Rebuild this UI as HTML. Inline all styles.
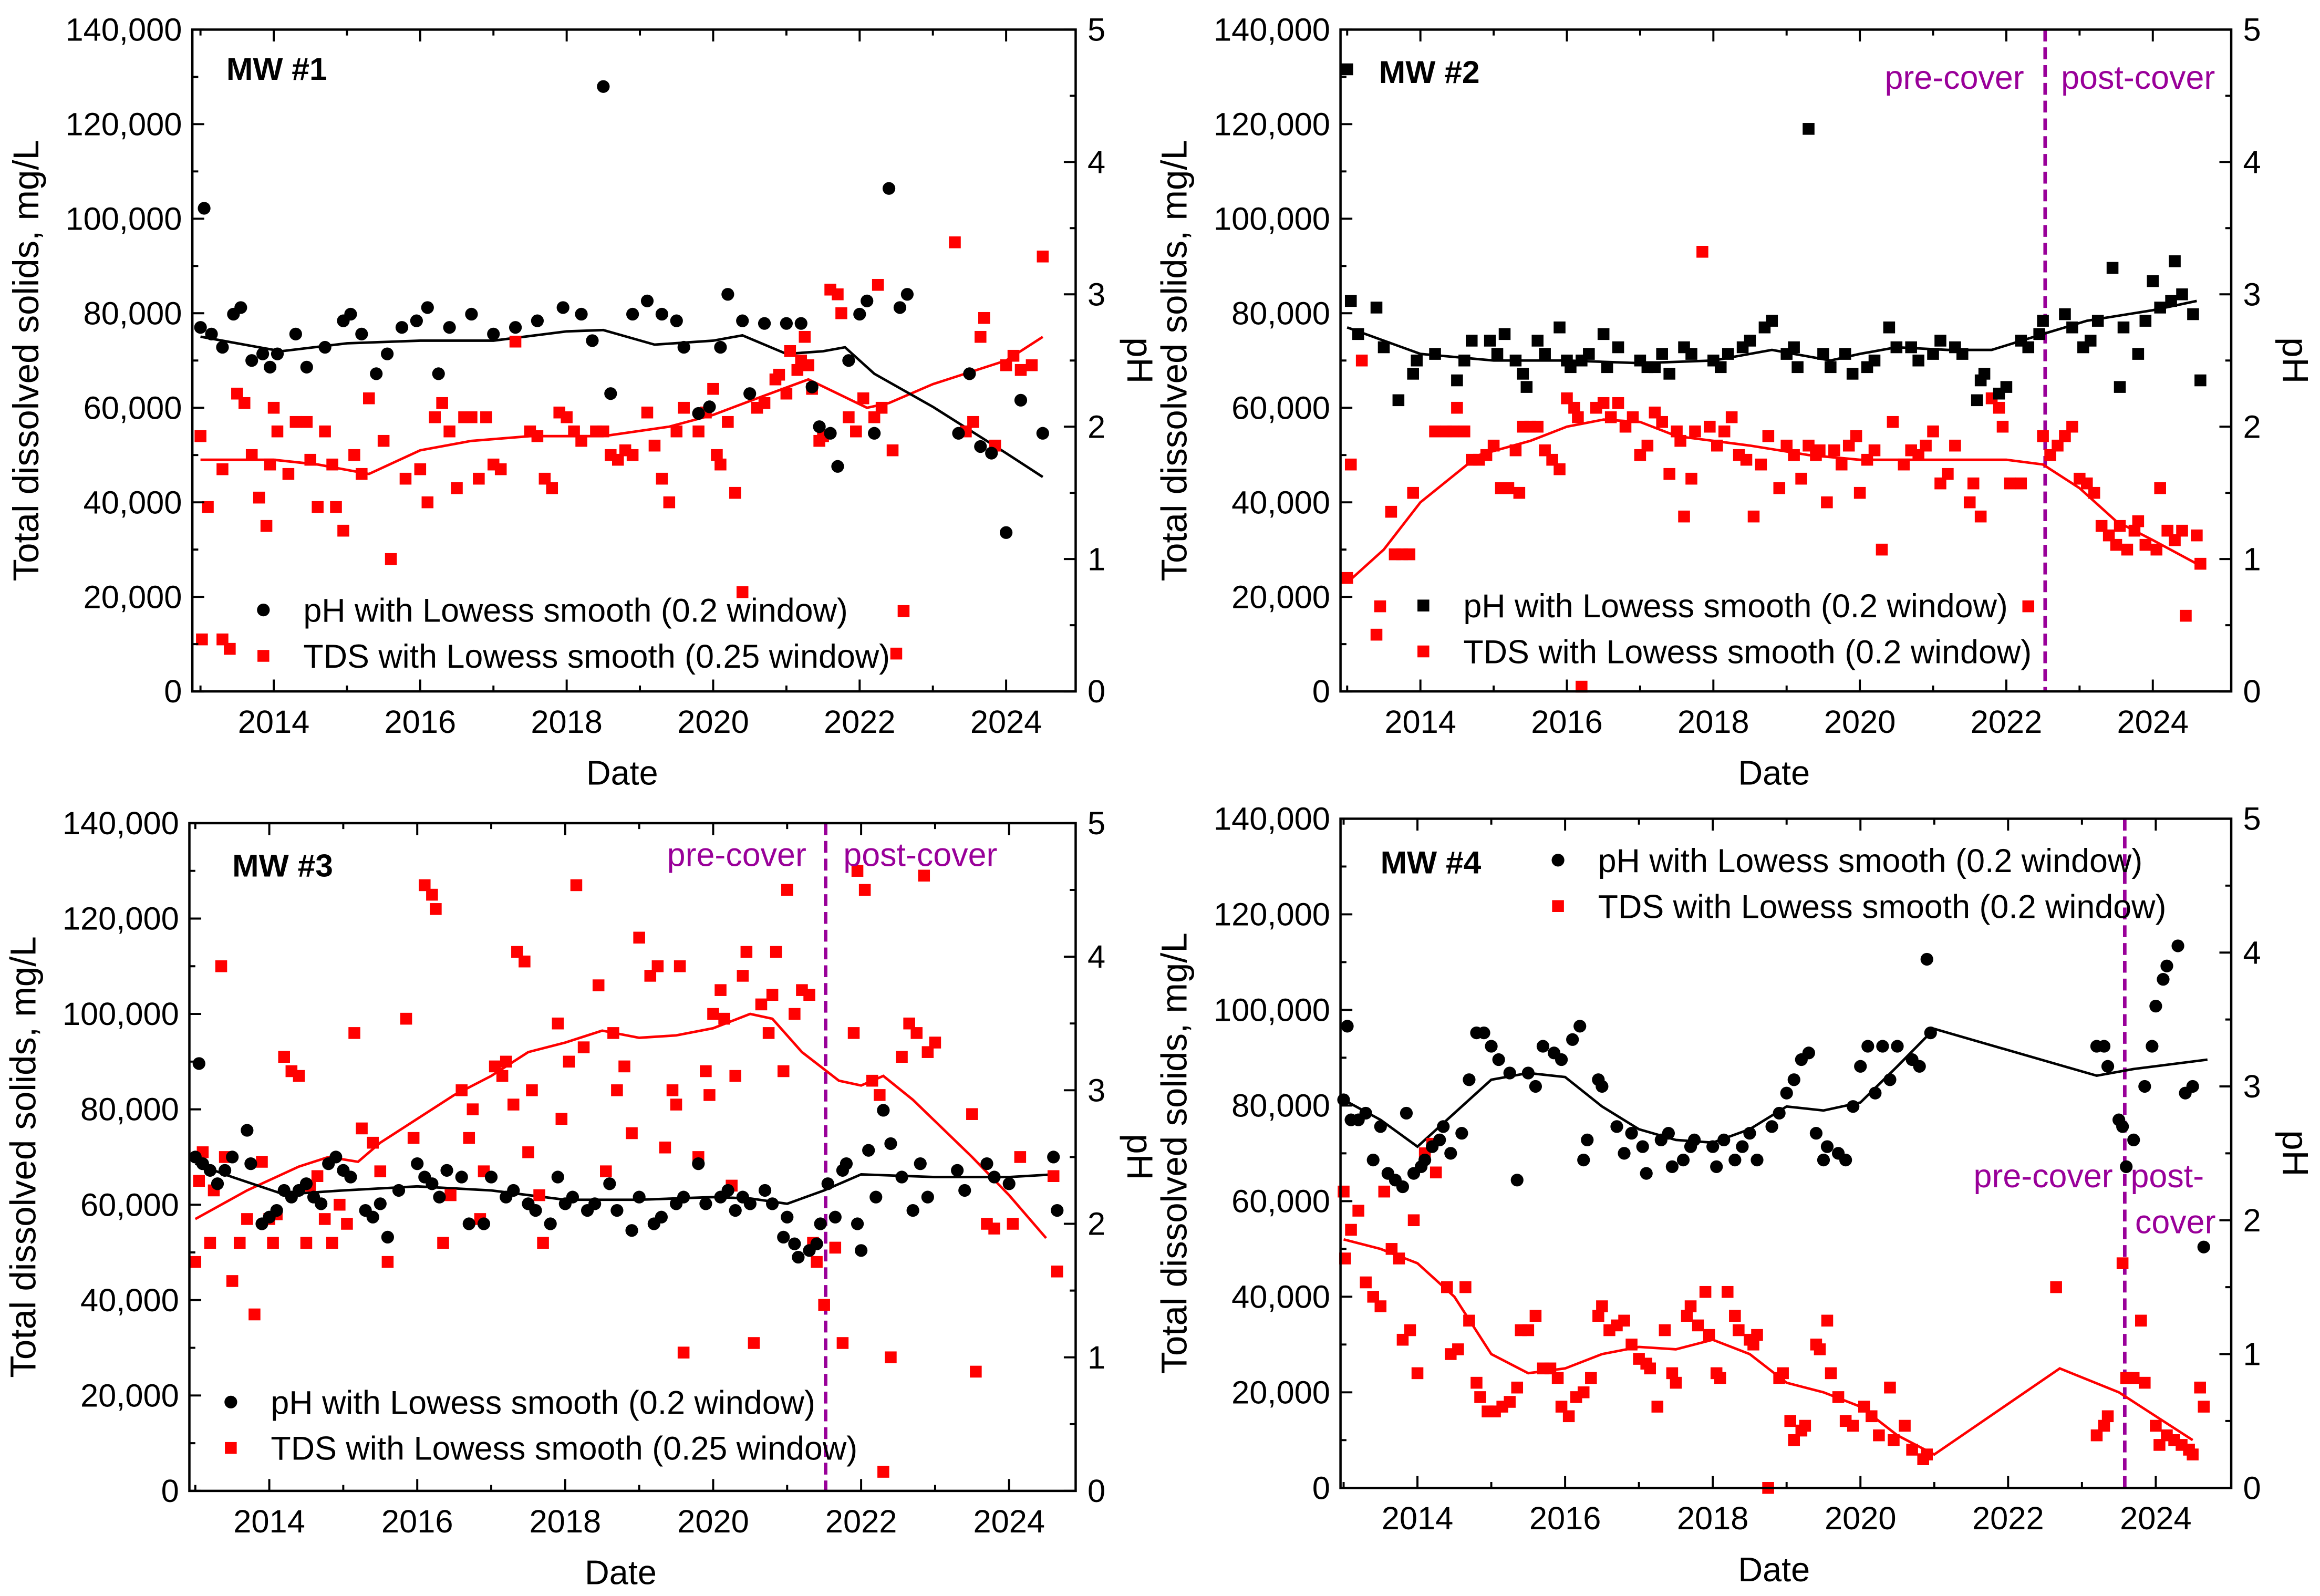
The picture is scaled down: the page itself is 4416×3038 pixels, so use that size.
<!DOCTYPE html>
<html><head><meta charset="utf-8"><style>
html,body{margin:0;padding:0;background:#fff;}
svg{display:block;font-family:"Liberation Sans",Arial,sans-serif;}
</style></head><body>
<svg id="chart" width="4416" height="3038" viewBox="0 0 1568 1078" preserveAspectRatio="none" xmlns="http://www.w3.org/2000/svg"></svg>
<script>
// ---------- tick labels ----------
const yearTickLabels = ['2014','2016','2018','2020','2022','2024'];
const tdsTickLabels = ['0','20,000','40,000','60,000','80,000','100,000','120,000','140,000'];
const phTickLabels = ['0','1','2','3','4','5'];

// ---------- MW #1 ----------
const mw1Ph = [[2013.0,2.75],[2013.05,3.65],[2013.15,2.7],[2013.3,2.6],[2013.45,2.85],[2013.55,2.9],[2013.7,2.5],[2013.85,2.55],[2013.95,2.45],[2014.05,2.55],[2014.3,2.7],[2014.45,2.45],[2014.7,2.6],[2014.95,2.8],[2015.05,2.85],[2015.2,2.7],[2015.4,2.4],[2015.55,2.55],[2015.75,2.75],[2015.95,2.8],[2016.1,2.9],[2016.25,2.4],[2016.4,2.75],[2016.7,2.85],[2017.0,2.7],[2017.3,2.75],[2017.6,2.8],[2017.95,2.9],[2018.2,2.85],[2018.35,2.65],[2018.5,4.57],[2018.6,2.25],[2018.9,2.85],[2019.1,2.95],[2019.3,2.85],[2019.5,2.8],[2019.6,2.6],[2019.8,2.1],[2019.95,2.15],[2020.1,2.6],[2020.2,3.0],[2020.4,2.8],[2020.5,2.25],[2020.7,2.78],[2021.0,2.78],[2021.2,2.78],[2021.35,2.3],[2021.45,2.0],[2021.6,1.95],[2021.7,1.7],[2021.85,2.5],[2022.0,2.85],[2022.1,2.95],[2022.2,1.95],[2022.4,3.8],[2022.55,2.9],[2022.65,3.0],[2023.35,1.95],[2023.5,2.4],[2023.65,1.85],[2023.8,1.8],[2024.0,1.2],[2024.2,2.2],[2024.5,1.95]];
const mw1PhSmooth = [[2013.0,2.68],[2014.1,2.57],[2015.0,2.63],[2016.0,2.65],[2017.0,2.65],[2018.0,2.72],[2018.5,2.73],[2019.2,2.62],[2020.0,2.65],[2020.4,2.69],[2021.0,2.55],[2021.5,2.57],[2021.8,2.6],[2022.2,2.4],[2023.0,2.15],[2024.0,1.8],[2024.5,1.62]];
const mw1Tds = [[2013.0,54],[2013.02,11],[2013.1,39],[2013.3,47],[2013.3,11],[2013.4,9],[2013.5,63],[2013.6,61],[2013.7,50],[2013.8,41],[2013.9,35],[2013.95,48],[2014.0,60],[2014.05,55],[2014.2,46],[2014.3,57],[2014.45,57],[2014.5,49],[2014.6,39],[2014.7,55],[2014.8,48],[2014.85,39],[2014.95,34],[2015.1,50],[2015.2,46],[2015.3,62],[2015.5,53],[2015.6,28],[2015.8,45],[2016.0,47],[2016.1,40],[2016.2,58],[2016.3,61],[2016.4,55],[2016.5,43],[2016.6,58],[2016.7,58],[2016.8,45],[2016.9,58],[2017.0,48],[2017.1,47],[2017.3,74],[2017.5,55],[2017.6,54],[2017.7,45],[2017.8,43],[2017.9,59],[2018.0,58],[2018.1,55],[2018.2,53],[2018.4,55],[2018.5,55],[2018.6,50],[2018.7,49],[2018.8,51],[2018.9,50],[2019.1,59],[2019.2,52],[2019.3,45],[2019.4,40],[2019.5,55],[2019.6,60],[2019.8,55],[2019.9,59],[2020.0,64],[2020.05,50],[2020.1,48],[2020.2,57],[2020.3,42],[2020.4,21],[2020.6,60],[2020.7,61],[2020.85,66],[2020.9,67],[2021.0,63],[2021.05,72],[2021.15,68],[2021.2,70],[2021.25,75],[2021.3,69],[2021.35,64],[2021.45,53],[2021.5,54],[2021.6,85],[2021.7,84],[2021.75,80],[2021.85,58],[2021.95,55],[2022.05,62],[2022.2,58],[2022.3,60],[2022.25,86],[2022.45,51],[2022.6,17],[2022.5,8],[2023.3,95],[2023.45,55],[2023.55,57],[2023.65,75],[2023.7,79],[2023.85,52],[2024.0,69],[2024.1,71],[2024.2,68],[2024.35,69],[2024.5,92]];
const mw1TdsSmooth = [[2013.0,49],[2014.0,49],[2014.6,48],[2015.3,46],[2016.0,51],[2016.7,53],[2017.5,54],[2018.5,54],[2019.4,56],[2020.0,58.5],[2020.6,62],[2021.3,66],[2021.7,63],[2022.1,60],[2022.4,61],[2023.0,65],[2024.0,70],[2024.5,75]];

// ---------- MW #2 ----------
const mw2Ph = [[2013.0,4.7],[2013.05,2.95],[2013.15,2.7],[2013.4,2.9],[2013.5,2.6],[2013.7,2.2],[2013.9,2.4],[2013.95,2.5],[2014.2,2.55],[2014.5,2.35],[2014.6,2.5],[2014.7,2.65],[2014.95,2.65],[2015.05,2.55],[2015.15,2.7],[2015.3,2.5],[2015.4,2.4],[2015.45,2.3],[2015.6,2.65],[2015.7,2.55],[2015.9,2.75],[2016.0,2.5],[2016.05,2.45],[2016.2,2.5],[2016.3,2.55],[2016.5,2.7],[2016.55,2.45],[2016.7,2.6],[2017.0,2.5],[2017.1,2.45],[2017.2,2.45],[2017.3,2.55],[2017.4,2.4],[2017.6,2.6],[2017.7,2.55],[2018.0,2.5],[2018.1,2.45],[2018.2,2.55],[2018.4,2.6],[2018.5,2.65],[2018.7,2.75],[2018.8,2.8],[2019.0,2.55],[2019.1,2.6],[2019.15,2.45],[2019.3,4.25],[2019.5,2.55],[2019.6,2.45],[2019.8,2.55],[2019.9,2.4],[2020.1,2.45],[2020.2,2.5],[2020.4,2.75],[2020.5,2.6],[2020.7,2.6],[2020.8,2.5],[2021.0,2.55],[2021.1,2.65],[2021.3,2.6],[2021.4,2.55],[2021.6,2.2],[2021.65,2.35],[2021.7,2.4],[2021.9,2.25],[2022.0,2.3],[2022.2,2.65],[2022.3,2.6],[2022.5,2.8],[2022.45,2.7],[2022.8,2.85],[2022.9,2.75],[2023.05,2.6],[2023.15,2.65],[2023.25,2.8],[2023.45,3.2],[2023.55,2.3],[2023.6,2.75],[2023.8,2.55],[2023.9,2.8],[2024.0,3.1],[2024.1,2.9],[2024.25,2.95],[2024.3,3.25],[2024.4,3.0],[2024.55,2.85],[2024.65,2.35]];
const mw2PhSmooth = [[2013.0,2.75],[2014.0,2.55],[2015.0,2.5],[2016.0,2.5],[2017.0,2.48],[2018.0,2.5],[2018.8,2.58],[2019.6,2.5],[2020.0,2.55],[2020.5,2.6],[2021.2,2.58],[2021.8,2.58],[2022.5,2.7],[2023.1,2.8],[2024.0,2.88],[2024.6,2.95]];
const mw2Tds = [[2013.0,24],[2013.05,48],[2013.2,70],[2013.4,12],[2013.45,18],[2013.6,38],[2013.65,29],[2013.75,29],[2013.85,29],[2013.9,42],[2014.2,55],[2014.35,55],[2014.45,55],[2014.5,60],[2014.6,55],[2014.7,49],[2014.8,49],[2014.9,50],[2015.0,52],[2015.1,43],[2015.2,43],[2015.3,51],[2015.35,42],[2015.4,56],[2015.5,56],[2015.6,56],[2015.7,51],[2015.8,49],[2015.9,47],[2016.0,62],[2016.1,60],[2016.15,58],[2016.2,1],[2016.4,60],[2016.5,61],[2016.6,58],[2016.7,61],[2016.8,56],[2016.9,58],[2017.0,50],[2017.1,52],[2017.2,59],[2017.3,57],[2017.4,46],[2017.5,55],[2017.55,53],[2017.6,37],[2017.7,45],[2017.75,55],[2017.85,93],[2017.95,56],[2018.05,52],[2018.15,55],[2018.25,58],[2018.35,50],[2018.45,49],[2018.55,37],[2018.65,48],[2018.75,54],[2018.9,43],[2019.0,52],[2019.1,50],[2019.2,45],[2019.3,52],[2019.4,50],[2019.45,51],[2019.55,40],[2019.65,51],[2019.75,48],[2019.85,52],[2019.95,54],[2020.0,42],[2020.1,49],[2020.2,51],[2020.3,30],[2020.45,57],[2020.6,48],[2020.7,51],[2020.8,50],[2020.9,52],[2021.0,55],[2021.1,44],[2021.2,46],[2021.3,52],[2021.5,40],[2021.55,44],[2021.65,37],[2021.8,62],[2021.9,60],[2021.95,56],[2022.05,44],[2022.2,44],[2022.3,18],[2022.5,54],[2022.6,50],[2022.7,52],[2022.8,54],[2022.9,56],[2023.0,45],[2023.1,44],[2023.2,42],[2023.3,35],[2023.4,33],[2023.5,31],[2023.55,35],[2023.65,30],[2023.75,34],[2023.8,36],[2023.9,31],[2024.05,30],[2024.1,43],[2024.2,34],[2024.3,32],[2024.4,34],[2024.45,16],[2024.6,33],[2024.65,27]];
const mw2TdsSmooth = [[2013.0,23],[2013.5,30],[2014.0,40],[2014.8,50],[2015.5,53],[2016.0,56],[2016.5,57.5],[2017.0,57],[2017.5,54],[2018.5,52],[2019.3,50],[2020.0,49],[2021.0,49],[2022.0,49],[2022.5,48],[2023.0,43],[2023.5,36],[2024.0,32],[2024.6,27]];
const mw2Cover = [2022.53];

// ---------- MW #3 ----------
const mw3Ph = [[2013.0,2.5],[2013.05,3.2],[2013.1,2.45],[2013.2,2.4],[2013.3,2.3],[2013.4,2.4],[2013.5,2.5],[2013.7,2.7],[2013.75,2.45],[2013.9,2.0],[2014.0,2.05],[2014.1,2.1],[2014.2,2.25],[2014.3,2.2],[2014.4,2.25],[2014.5,2.3],[2014.6,2.2],[2014.7,2.15],[2014.8,2.45],[2014.9,2.5],[2015.0,2.4],[2015.1,2.35],[2015.3,2.1],[2015.4,2.05],[2015.5,2.15],[2015.6,1.9],[2015.75,2.25],[2016.0,2.45],[2016.1,2.35],[2016.2,2.3],[2016.3,2.2],[2016.4,2.4],[2016.6,2.35],[2016.7,2.0],[2016.9,2.0],[2017.0,2.35],[2017.2,2.2],[2017.3,2.25],[2017.5,2.15],[2017.6,2.1],[2017.8,2.0],[2017.9,2.35],[2018.0,2.15],[2018.1,2.2],[2018.3,2.1],[2018.4,2.15],[2018.6,2.3],[2018.7,2.1],[2018.9,1.95],[2019.0,2.2],[2019.2,2.0],[2019.3,2.05],[2019.5,2.15],[2019.6,2.2],[2019.8,2.45],[2019.9,2.15],[2020.1,2.2],[2020.2,2.25],[2020.3,2.1],[2020.4,2.2],[2020.5,2.15],[2020.7,2.25],[2020.8,2.15],[2020.95,1.9],[2021.0,2.05],[2021.1,1.85],[2021.15,1.75],[2021.3,1.8],[2021.4,1.85],[2021.45,2.0],[2021.55,2.3],[2021.65,2.05],[2021.75,2.4],[2021.8,2.45],[2021.95,2.0],[2022.0,1.8],[2022.1,2.55],[2022.2,2.2],[2022.3,2.85],[2022.4,2.6],[2022.55,2.35],[2022.7,2.1],[2022.8,2.45],[2022.9,2.2],[2023.3,2.4],[2023.4,2.25],[2023.7,2.45],[2023.8,2.35],[2024.0,2.3],[2024.6,2.5],[2024.65,2.1]];
const mw3PhSmooth = [[2013.0,2.45],[2013.5,2.35],[2014.2,2.22],[2015.0,2.25],[2016.0,2.28],[2017.0,2.25],[2018.0,2.18],[2019.0,2.18],[2020.0,2.2],[2020.5,2.19],[2021.0,2.15],[2021.5,2.25],[2022.0,2.37],[2023.0,2.35],[2024.0,2.35],[2024.6,2.37]];
const mw3Tds = [[2013.0,48],[2013.05,65],[2013.1,71],[2013.2,52],[2013.25,63],[2013.35,110],[2013.4,70],[2013.5,44],[2013.6,52],[2013.7,57],[2013.8,37],[2013.9,69],[2014.0,57],[2014.05,52],[2014.1,58],[2014.2,91],[2014.3,88],[2014.4,87],[2014.5,52],[2014.55,64],[2014.65,66],[2014.75,57],[2014.85,52],[2014.95,60],[2015.05,56],[2015.15,96],[2015.25,76],[2015.4,73],[2015.5,67],[2015.6,48],[2015.85,99],[2015.95,74],[2016.1,127],[2016.2,125],[2016.25,122],[2016.35,52],[2016.45,62],[2016.6,84],[2016.7,74],[2016.75,80],[2016.85,57],[2016.9,67],[2017.05,89],[2017.15,87],[2017.2,90],[2017.3,81],[2017.35,113],[2017.45,111],[2017.5,71],[2017.55,84],[2017.65,62],[2017.7,52],[2017.9,98],[2017.95,78],[2018.05,90],[2018.15,127],[2018.25,93],[2018.45,106],[2018.55,67],[2018.65,96],[2018.7,84],[2018.8,89],[2018.9,75],[2019.0,116],[2019.15,108],[2019.25,110],[2019.35,72],[2019.45,84],[2019.5,81],[2019.55,110],[2019.6,29],[2019.8,70],[2019.9,88],[2019.95,83],[2020.0,100],[2020.1,105],[2020.15,99],[2020.25,64],[2020.3,87],[2020.4,108],[2020.45,113],[2020.55,31],[2020.65,102],[2020.75,96],[2020.8,104],[2020.85,113],[2020.95,88],[2021.0,126],[2021.1,100],[2021.2,105],[2021.3,104],[2021.35,52],[2021.4,48],[2021.5,39],[2021.65,51],[2021.75,31],[2021.9,96],[2021.95,130],[2022.05,126],[2022.15,86],[2022.25,83],[2022.3,4],[2022.4,28],[2022.55,91],[2022.65,98],[2022.75,96],[2022.85,129],[2022.9,92],[2023.0,94],[2023.5,79],[2023.55,25],[2023.7,56],[2023.8,55],[2024.05,56],[2024.15,70],[2024.6,66],[2024.65,46]];
const mw3TdsSmooth = [[2013.0,57],[2013.7,63],[2014.4,68],[2014.8,70],[2015.2,69],[2015.5,73],[2016.0,78],[2016.5,83],[2017.0,87],[2017.5,92],[2018.0,94],[2018.5,96.5],[2019.0,95],[2019.5,95.5],[2020.0,97],[2020.5,100],[2020.8,99],[2021.2,92],[2021.7,86],[2022.0,85],[2022.3,87],[2022.7,82],[2023.5,70],[2024.0,62],[2024.5,53]];
const mw3Cover = [2021.52];

// ---------- MW #4 ----------
const mw4Ph = [[2013.0,2.9],[2013.05,3.45],[2013.1,2.75],[2013.2,2.75],[2013.3,2.8],[2013.4,2.45],[2013.5,2.7],[2013.6,2.35],[2013.7,2.3],[2013.8,2.25],[2013.85,2.8],[2013.95,2.35],[2014.05,2.4],[2014.1,2.45],[2014.2,2.55],[2014.3,2.6],[2014.35,2.7],[2014.45,2.5],[2014.6,2.65],[2014.7,3.05],[2014.8,3.4],[2014.9,3.4],[2015.0,3.3],[2015.1,3.2],[2015.25,3.1],[2015.35,2.3],[2015.5,3.1],[2015.6,3.0],[2015.7,3.3],[2015.85,3.25],[2015.95,3.2],[2016.1,3.35],[2016.2,3.45],[2016.25,2.45],[2016.3,2.6],[2016.45,3.05],[2016.5,3.0],[2016.7,2.7],[2016.8,2.5],[2016.9,2.65],[2017.05,2.55],[2017.1,2.35],[2017.3,2.6],[2017.4,2.65],[2017.45,2.4],[2017.6,2.45],[2017.7,2.55],[2017.75,2.6],[2018.0,2.55],[2018.05,2.4],[2018.15,2.6],[2018.3,2.45],[2018.4,2.55],[2018.5,2.65],[2018.6,2.45],[2018.8,2.7],[2018.9,2.8],[2019.0,2.95],[2019.1,3.05],[2019.2,3.2],[2019.3,3.25],[2019.4,2.65],[2019.5,2.45],[2019.55,2.55],[2019.7,2.5],[2019.8,2.45],[2019.9,2.85],[2020.0,3.15],[2020.1,3.3],[2020.2,2.95],[2020.3,3.3],[2020.4,3.05],[2020.5,3.3],[2020.7,3.2],[2020.8,3.15],[2020.9,3.95],[2020.95,3.4],[2023.2,3.3],[2023.3,3.3],[2023.35,3.15],[2023.5,2.75],[2023.55,2.7],[2023.6,2.4],[2023.7,2.6],[2023.85,3.0],[2023.95,3.3],[2024.0,3.6],[2024.1,3.8],[2024.15,3.9],[2024.3,4.05],[2024.4,2.95],[2024.5,3.0],[2024.65,1.8]];
const mw4PhSmooth = [[2013.0,2.9],[2013.5,2.75],[2014.0,2.55],[2014.5,2.8],[2015.0,3.05],[2015.5,3.1],[2016.0,3.07],[2016.5,2.85],[2017.0,2.68],[2017.5,2.6],[2018.0,2.58],[2018.5,2.68],[2019.0,2.85],[2019.5,2.82],[2020.0,2.88],[2020.5,3.15],[2021.0,3.43],[2023.2,3.08],[2023.7,3.13],[2024.7,3.2]];
const mw4Tds = [[2013.0,62],[2013.02,48],[2013.1,54],[2013.2,58],[2013.3,43],[2013.4,40],[2013.5,38],[2013.55,62],[2013.65,50],[2013.75,48],[2013.8,31],[2013.9,33],[2013.95,56],[2014.0,24],[2014.1,70],[2014.2,72],[2014.25,66],[2014.4,42],[2014.45,28],[2014.55,29],[2014.65,42],[2014.7,35],[2014.8,22],[2014.85,19],[2014.95,16],[2015.05,16],[2015.15,17],[2015.25,18],[2015.35,21],[2015.4,33],[2015.5,33],[2015.6,36],[2015.7,25],[2015.8,25],[2015.9,23],[2015.95,17],[2016.05,15],[2016.15,19],[2016.25,20],[2016.35,23],[2016.45,36],[2016.5,38],[2016.6,33],[2016.7,34],[2016.8,35],[2016.9,30],[2017.0,27],[2017.1,26],[2017.15,25],[2017.25,17],[2017.35,33],[2017.45,24],[2017.5,22],[2017.65,36],[2017.7,38],[2017.8,34],[2017.9,41],[2017.95,32],[2018.05,24],[2018.1,23],[2018.2,41],[2018.3,36],[2018.35,33],[2018.5,31],[2018.55,30],[2018.6,32],[2018.75,0],[2018.9,23],[2018.95,24],[2019.05,14],[2019.1,10],[2019.2,12],[2019.25,13],[2019.4,30],[2019.45,29],[2019.55,35],[2019.6,24],[2019.7,19],[2019.8,14],[2019.9,13],[2020.05,17],[2020.15,15],[2020.25,11],[2020.4,21],[2020.45,10],[2020.6,13],[2020.7,8],[2020.85,6],[2020.9,7],[2022.65,42],[2023.2,11],[2023.3,13],[2023.35,15],[2023.55,47],[2023.6,23],[2023.7,23],[2023.8,35],[2023.85,22],[2024.0,13],[2024.05,9],[2024.15,11],[2024.25,10],[2024.35,9],[2024.45,8],[2024.5,7],[2024.6,21],[2024.65,17]];
const mw4TdsSmooth = [[2013.0,52],[2013.5,50],[2014.0,47],[2014.5,40],[2015.0,28],[2015.5,24],[2016.0,25],[2016.5,28],[2017.0,29.5],[2017.5,29],[2018.0,31],[2018.5,28],[2019.0,22],[2019.5,20],[2020.0,17],[2020.5,11],[2021.0,7],[2022.7,25],[2023.5,20],[2024.5,10]];
const mw4Cover = [2023.58];

// ---------- drawing ----------
const NS = 'http://www.w3.org/2000/svg';
const svg = document.getElementById('chart');
function mk(tag, attrs, parent){ const e=document.createElementNS(NS,tag); for(const k in attrs) e.setAttribute(k,attrs[k]); (parent||svg).appendChild(e); return e; }
const PURPLE = '#990099';
const TICKF = 21.8, LEGF = 22.3, TITLEF = 24.5;

function drawPanel(p){
  const g = mk('g',{});
  
  
  const xs = y => p.p2014 + (y-2014)*(p.p2024-p.p2014)/10;
  const ysT = v => p.y1 - v/140*(p.y1-p.y0);
  const ysP = v => p.y1 - v/5*(p.y1-p.y0);

  if(p.cover){
    const cx = xs(p.cover[0]);
    const cl = mk('line',{x1:cx,x2:cx,y1:p.y0,y2:p.y1,stroke:PURPLE,'stroke-width':2.4,'stroke-dasharray':'8,4'},g);
    
    
  }

  const lineT = mk('polyline',{points:p.tdsS.map(d=>xs(d[0])+','+ysT(d[1])).join(' '),fill:'none',stroke:'#ff0000','stroke-width':1.7},g);
  
  
  const lineP = mk('polyline',{points:p.phS.map(d=>xs(d[0])+','+ysP(d[1])).join(' '),fill:'none',stroke:'#000','stroke-width':1.7},g);
  
  

  const ptsT = mk('g',{fill:'#ff0000'},g);
  
  
  p.tds.forEach(d=>{ mk('rect',{x:xs(d[0])-4,y:ysT(d[1])-4,width:8,height:8},ptsT); });
  const ptsP = mk('g',{fill:'#000'},g);
  
  
  p.ph.forEach(d=>{
    if(p.phSquare) mk('rect',{x:xs(d[0])-4,y:ysP(d[1])-4,width:8,height:8},ptsP);
    else mk('circle',{cx:xs(d[0]),cy:ysP(d[1]),r:4.3},ptsP);
  });

  const fr = mk('rect',{x:p.x0,y:p.y0,width:p.x1-p.x0,height:p.y1-p.y0,fill:'none',stroke:'#000','stroke-width':1.6},g);
  
  

  let td='';
  for(let v=0; v<=140; v+=10){ const y=ysT(v); const L=(v%20===0)?8:4; td+=`M${p.x0},${y}h${L}`; }
  for(let v=0; v<=5.001; v+=0.5){ const y=ysP(v); const L=(Math.abs(v-Math.round(v))<0.01)?8:4; td+=`M${p.x1},${y}h${-L}`; }
  for(let yr=2013; yr<=2024; yr++){ const x=xs(yr); const L=(yr%2===0)?8:4; td+=`M${x},${p.y1}v${-L}M${x},${p.y0}v${L}`; }
  const tk = mk('path',{d:td,stroke:'#000','stroke-width':1.4,fill:'none'},g);
  
  

  tdsTickLabels.forEach((t,i)=>{
    const e = mk('text',{x:p.x0-7,y:ysT(i*20)+7.5,'text-anchor':'end','font-size':TICKF},g); e.textContent=t;
    
    
  });
  phTickLabels.forEach((t,i)=>{
    const e = mk('text',{x:p.x1+8,y:ysP(i)+7.5,'font-size':TICKF},g); e.textContent=t;
    
    
  });
  yearTickLabels.forEach(t=>{
    const e = mk('text',{x:xs(+t),y:p.y1+28,'text-anchor':'middle','font-size':TICKF},g); e.textContent=t;
    
    
  });

  const xt = mk('text',{x:(p.x0+p.x1)/2-8,y:p.y1+63,'text-anchor':'middle','font-size':23},g); xt.textContent='Date';
  
  
  const cy=(p.y0+p.y1)/2;
  const yt = mk('text',{x:p.x0-104,y:cy,'text-anchor':'middle','font-size':TITLEF,transform:`rotate(-90 ${p.x0-104} ${cy})`},g); yt.textContent='Total dissolved solids, mg/L';
  
  
  const pt = mk('text',{x:p.x1+35,y:cy,'text-anchor':'middle','font-size':TITLEF,transform:`rotate(90 ${p.x1+35} ${cy})`},g); pt.textContent='pH';
  
  

  const wl = mk('text',{x:p.wl[0],y:p.wl[1],'font-size':21.5,'font-weight':'bold'},g); wl.textContent=p.title;
  
  

  const lg = mk('g',{},g);
  
  
  const [lx,ly]=p.leg;
  if(p.phSquare) mk('rect',{x:lx-4,y:ly-4,width:8,height:8,fill:'#000'},lg);
  else mk('circle',{cx:lx,cy:ly,r:4.3,fill:'#000'},lg);
  mk('rect',{x:lx-4,y:ly+31-4,width:8,height:8,fill:'#ff0000'},lg);
  const l1 = mk('text',{x:lx+27,y:ly+8,'font-size':LEGF},lg); l1.textContent=p.leg1;
  
  
  const l2 = mk('text',{x:lx+27,y:ly+39,'font-size':LEGF},lg); l2.textContent=p.leg2;
  
  

  (p.coverText||[]).forEach(c=>{
    const e = mk('text',{x:c[0],y:c[1],'text-anchor':c[2],'font-size':22.3,fill:PURPLE},g); e.textContent=c[3];
    
    
  });
}

drawPanel({id:'mw1',title:'MW #1',x0:130,x1:727,y0:20,y1:467,p2014:185,p2024:680,ph:mw1Ph,phS:mw1PhSmooth,tds:mw1Tds,tdsS:mw1TdsSmooth,phSquare:false,wl:[153,54],leg:[178,412],leg1:'pH with Lowess smooth (0.2 window)',leg2:'TDS with Lowess smooth (0.25 window)'});
drawPanel({id:'mw2',title:'MW #2',x0:906,x1:1508,y0:20,y1:467,p2014:960,p2024:1455,ph:mw2Ph,phS:mw2PhSmooth,tds:mw2Tds,tdsS:mw2TdsSmooth,phSquare:true,wl:[932,56],leg:[962,409],leg1:'pH with Lowess smooth (0.2 window)',leg2:'TDS with Lowess smooth (0.2 window)',cover:mw2Cover,coverText:[[1368,60,'end','pre-cover'],[1393,60,'start','post-cover']]});
drawPanel({id:'mw3',title:'MW #3',x0:128,x1:727,y0:556,y1:1007,p2014:182,p2024:682,ph:mw3Ph,phS:mw3PhSmooth,tds:mw3Tds,tdsS:mw3TdsSmooth,phSquare:false,wl:[157,592],leg:[156,947],leg1:'pH with Lowess smooth (0.2 window)',leg2:'TDS with Lowess smooth (0.25 window)',cover:mw3Cover,coverText:[[545,585,'end','pre-cover'],[570,585,'start','post-cover']]});
drawPanel({id:'mw4',title:'MW #4',x0:906,x1:1508,y0:553,y1:1005,p2014:958,p2024:1457,ph:mw4Ph,phS:mw4PhSmooth,tds:mw4Tds,tdsS:mw4TdsSmooth,phSquare:false,wl:[933,590],leg:[1053,581],leg1:'pH with Lowess smooth (0.2 window)',leg2:'TDS with Lowess smooth (0.2 window)',cover:mw4Cover,coverText:[[1428,802,'end','pre-cover'],[1440,802,'start','post-'],[1443,833,'start','cover']]});
</script>
</body></html>
